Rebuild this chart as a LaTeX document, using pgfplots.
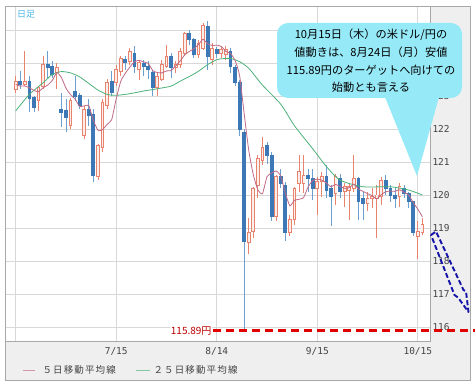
\documentclass[border=0pt]{standalone}
\usepackage{fontspec}
\setmainfont{Noto Sans CJK JP}
\newfontfamily\tickfont{DejaVu Sans Mono}
\newfontfamily\legfont[LetterSpace=12]{Noto Sans CJK JP}
\usepackage{pgfplots}
\usepackage{pgfplotstable}
\pgfplotsset{compat=1.18}
\definecolor{upc}{HTML}{E8836E}
\definecolor{upfill}{HTML}{FCEEEA}
\definecolor{dnc}{HTML}{3B78B5}
\definecolor{dnw}{HTML}{6A9FD0}
\definecolor{ma5c}{HTML}{C06A86}
\definecolor{ma25c}{HTML}{4CB27A}
\definecolor{gridc}{HTML}{D8D8D8}
\definecolor{axisc}{HTML}{A8A8A8}
\definecolor{framebg}{HTML}{EFEFEF}
\definecolor{tickc}{HTML}{444444}
\definecolor{callc}{HTML}{96E9F7}
\definecolor{redl}{HTML}{E00000}
\definecolor{arrc}{HTML}{1414A8}
\definecolor{ashic}{HTML}{4AB8E8}

\pgfplotstableread{
i o h l c
0 123.20 123.60 123.10 123.45
2 123.35 124.35 123.30 123.45
5 122.85 123.30 122.55 123.25
6 123.30 124.20 123.20 123.95
9 123.70 124.00 123.20 123.85
12 122.10 122.95 122.00 122.85
15 121.80 122.70 121.70 122.60
18 120.55 121.55 120.45 121.50
19 121.45 122.90 121.30 122.80
20 122.70 123.50 122.60 123.40
22 123.40 123.95 123.30 123.80
23 123.75 124.20 123.60 124.15
25 124.05 124.45 123.95 124.35
27 123.80 124.10 123.50 124.00
31 123.25 123.70 123.00 123.60
32 123.50 124.10 123.45 123.95
33 123.90 124.55 123.85 124.20
35 123.85 124.05 123.70 123.95
36 123.95 124.45 123.85 124.35
37 124.30 124.95 124.20 124.90
40 124.25 124.70 124.15 124.60
41 124.45 125.20 124.40 125.15
43 124.10 124.60 123.95 124.45
45 124.30 124.50 124.15 124.40
46 124.25 124.50 124.10 124.40
51 118.55 119.30 118.20 118.85
52 118.90 120.25 118.70 120.20
53 120.30 121.20 119.90 121.10
54 121.05 121.75 120.90 121.45
57 119.35 120.60 119.20 120.55
60 118.85 119.40 118.75 119.25
61 119.25 120.25 119.10 120.20
62 120.35 121.20 120.10 120.70
63 120.35 121.20 120.05 120.60
66 120.20 120.55 119.40 120.40
67 120.40 120.70 119.95 120.55
70 120.05 120.65 119.70 120.55
72 120.10 120.35 119.65 120.25
73 120.15 120.35 119.25 120.25
74 120.20 121.20 120.10 120.50
77 119.75 120.10 119.50 119.90
78 119.90 120.20 119.60 119.95
79 119.90 120.30 118.70 120.00
80 119.95 120.55 119.70 120.45
84 119.95 120.35 119.65 120.25
88 118.75 119.20 118.05 118.90
89 118.85 119.30 118.80 119.10
}\uptab

\pgfplotstableread{
i o h l c
1 123.45 123.75 123.20 123.35
3 123.43 123.60 122.50 122.93
4 122.95 123.00 122.50 122.65
7 123.95 124.35 123.55 123.85
8 123.90 124.05 123.55 123.65
10 122.60 123.10 122.05 122.50
11 122.55 122.90 121.90 122.35
13 123.15 123.60 122.85 123.00
14 123.00 123.10 122.60 122.70
16 122.60 122.90 122.10 122.40
17 122.45 122.60 120.40 120.60
21 123.45 123.75 123.00 123.10
24 124.10 124.20 123.80 124.00
26 124.30 124.50 123.70 123.90
28 124.00 124.10 123.60 123.90
29 123.90 124.05 123.50 123.80
30 123.70 123.80 123.00 123.25
34 124.20 124.30 123.55 123.85
38 124.90 125.00 124.55 124.70
39 124.70 124.75 124.15 124.25
42 125.10 125.28 123.80 124.20
44 124.40 124.50 124.15 124.30
47 124.35 124.45 123.70 123.90
48 123.85 123.95 123.30 123.40
49 123.40 123.50 121.80 122.00
50 121.90 122.00 115.89 118.60
55 121.50 121.60 120.95 121.20
56 121.20 121.30 119.20 119.35
58 120.55 120.80 120.20 120.35
59 120.30 120.40 118.60 118.85
64 120.60 120.80 120.10 120.50
65 120.50 120.80 119.85 120.20
68 120.55 120.90 119.90 120.15
69 120.20 120.30 119.05 119.95
71 120.50 120.65 119.90 120.10
75 120.50 120.55 119.25 119.80
76 119.90 120.10 119.25 119.75
81 120.45 120.60 120.00 120.20
82 120.20 120.30 119.80 120.00
83 120.00 120.20 119.60 119.90
85 120.20 120.30 119.90 120.05
86 120.05 120.10 119.60 119.80
87 119.80 119.80 118.75 118.85
}\dntab

\begin{document}
\begin{tikzpicture}[x=1pt,y=1pt]
\useasboundingbox (0,0) rectangle (475,388);
\fill[framebg] (5,8) rectangle (470.5,382);
\draw[axisc, line width=0.8pt] (5,8) rectangle (470.5,382);
\begin{axis}[
  at={(5pt,47pt)}, anchor=south west,
  scale only axis, width=425pt, height=335pt,
  xmin=-2.34, xmax=90.66, ymin=115.576, ymax=125.727,
  axis background/.style={fill=white},
  axis line style={draw=axisc, line width=0.8pt},
  ytick={116,117,...,125},
  yticklabels={116,117,118,119,120,121,122,123,,},
  yticklabel pos=right,
  xtick={0,22,44,66,88},
  xticklabels={,7/15,8/14,9/15,10/15},
  grid=major, grid style={draw=gridc, line width=0.8pt},
  major tick length=0pt,
  /pgf/number format/assume math mode=true,
  ticklabel style={font=\tickfont\fontsize{9.5pt}{10pt}\selectfont, text=tickc},
  yticklabel style={xshift=-1pt},
  xticklabel style={yshift=-3pt},
  clip=false,
  candle/.style={forget plot, draw=none, mark=none},
]
% wicks
\addplot[candle, error bars/.cd, y dir=both, y explicit, error mark=none,
  error bar style={line width=0.9pt, draw=upc}]
  table[x=i, y expr={(\thisrow{h}+\thisrow{l})/2}, y error expr={(\thisrow{h}-\thisrow{l})/2}] {\uptab};
\addplot[candle, error bars/.cd, y dir=both, y explicit, error mark=none,
  error bar style={line width=0.9pt, draw=dnw}]
  table[x=i, y expr={(\thisrow{h}+\thisrow{l})/2}, y error expr={(\thisrow{h}-\thisrow{l})/2}] {\dntab};
% bodies
\addplot[candle, error bars/.cd, y dir=both, y explicit, error mark=none,
  error bar style={line width=3.8pt, draw=upc}]
  table[x=i, y expr={(\thisrow{o}+\thisrow{c})/2}, y error expr={max((\thisrow{c}-\thisrow{o})/2+0.015,0.025)}] {\uptab};
\addplot[candle, error bars/.cd, y dir=both, y explicit, error mark=none,
  error bar style={line width=1.9pt, draw=upfill}]
  table[x=i, y expr={(\thisrow{o}+\thisrow{c})/2}, y error expr={max((\thisrow{c}-\thisrow{o})/2-0.015,0)}] {\uptab};
\addplot[candle, error bars/.cd, y dir=both, y explicit, error mark=none,
  error bar style={line width=3.8pt, draw=dnc}]
  table[x=i, y expr={(\thisrow{o}+\thisrow{c})/2}, y error expr={max((\thisrow{o}-\thisrow{c})/2+0.015,0.025)}] {\dntab};
% moving averages
\addplot[forget plot, ma25c, line width=0.8pt, mark=none, smooth, tension=0.4] coordinates {
(0,122.55)(3,123.05)(6,123.4)(8,123.65)(10,123.74)(12,123.7)(14,123.58)(16,123.38)(18,123.18)(20,123.05)(22,123.02)(25,123.07)(28,123.15)(31,123.22)(34,123.3)(36,123.45)(38,123.59)(40,123.75)(42,123.95)(44,124.1)(46,124.14)(47,124.14)(49,124.04)(51,123.84)(54,123.33)(58,122.75)(61,122.1)(65,121.4)(68,120.86)(71,120.45)(76,120.25)(82,120.25)(86,120.15)(89,120.0)};
\addplot[forget plot, ma5c, line width=0.8pt, mark=none, smooth, tension=0.3] coordinates {
(0,123.35)(1,123.3)(2,123.3)(3,123.25)(4,123.17)(5,123.13)(6,123.25)(7,123.33)(8,123.47)(9,123.71)(10,123.56)(11,123.24)(12,123.04)(13,122.91)(14,122.68)(15,122.70)(16,122.71)(17,122.26)(18,121.96)(19,121.98)(20,122.14)(21,122.28)(22,122.92)(23,123.45)(24,123.69)(25,123.88)(26,124.04)(27,124.08)(28,124.03)(29,123.99)(30,123.77)(31,123.71)(32,123.70)(33,123.76)(34,123.77)(35,123.91)(36,124.06)(37,124.25)(38,124.35)(39,124.43)(40,124.56)(41,124.72)(42,124.58)(43,124.53)(44,124.54)(45,124.50)(46,124.35)(47,124.29)(48,124.08)(49,123.62)(50,122.46)(51,121.35)(52,120.61)(53,120.15)(54,120.04)(55,120.56)(56,120.66)(57,120.73)(58,120.58)(59,120.06)(60,119.67)(61,119.84)(62,119.87)(63,119.92)(64,120.25)(65,120.44)(66,120.48)(67,120.45)(68,120.36)(69,120.25)(70,120.32)(71,120.26)(72,120.20)(73,120.22)(74,120.33)(75,120.18)(76,120.11)(77,120.04)(78,119.98)(79,119.88)(80,120.01)(81,120.10)(82,120.12)(83,120.11)(84,120.16)(85,120.08)(86,120.00)(87,119.77)(88,119.57)(89,119.34)};
% target line
\draw[redl, line width=2.6pt, dash pattern=on 8pt off 5pt] (axis cs:43.2,115.89) -- (axis cs:100.6,115.89);
\node[anchor=east, fill=white, inner sep=1pt, text=redl!85!black, font=\fontsize{10pt}{10pt}\selectfont] at (axis cs:43.1,115.89) {115.89円};
\end{axis}
% callout
\fill[callc, rounded corners=11pt] (277,290) rectangle (462,365);
\fill[callc] (385,291) -- (439,291) -- (417,212) -- cycle;
\begin{scope}[every node/.style={font=\fontsize{11.2pt}{11.2pt}\selectfont, text=black}]
\node at (371,353) {10月15日（木）の米ドル/円の};
\node at (371,335.5) {値動きは、8月24日（月）安値};
\node at (371,318) {115.89円のターゲットへ向けての};
\node at (371,300.5) {始動とも言える};
\end{scope}
% arrow
\draw[arrc, line width=1.9pt, dash pattern=on 5pt off 2.5pt, line join=round]
 (431,153) -- (436,156.5) -- (463.5,98) -- (466,96.5) -- (468.5,76) -- (458,90.5) -- (454.5,93) -- cycle;
% label
\node[text=ashic, font=\fontsize{9pt}{9pt}\selectfont] at (26,373.5) {日足};
% legend
\draw[ma5c!70!white, line width=0.8pt] (22.7,18) -- (35,18);
\node[anchor=west, text=tickc, font=\legfont\fontsize{9.5pt}{10pt}\selectfont] at (39,18) {５日移動平均線};
\draw[ma25c!70!white, line width=0.8pt] (136,18) -- (150,18);
\node[anchor=west, text=tickc, font=\legfont\fontsize{9.5pt}{10pt}\selectfont] at (150,18) {２５日移動平均線};
\end{tikzpicture}
\end{document}
